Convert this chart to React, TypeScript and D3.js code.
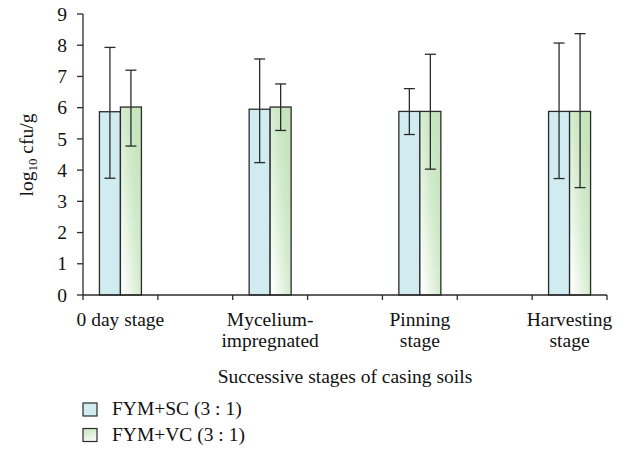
import React from "react";
import * as d3 from "d3";

// Excel-style layout: 7 category slots, stages sit in every other slot
const slotCount = 7;
const stageSlots = [0, 2, 4, 6];
const stageLabels = [["0 day stage"], ["Mycelium-", "impregnated"], ["Pinning", "stage"], ["Harvesting", "stage"]];

const seriesNames = ["FYM+SC (3 : 1)", "FYM+VC (3 : 1)"];

// means and error bar ends (log10 cfu/g)
const scMean = [5.87, 5.95, 5.88, 5.88];
const scHigh = [7.93, 7.56, 6.61, 8.07];
const scLow = [3.74, 4.24, 5.14, 3.73];

const vcMean = [6.02, 6.02, 5.88, 5.88];
const vcHigh = [7.2, 6.76, 7.71, 8.37];
const vcLow = [4.77, 5.27, 4.03, 3.44];

const yTicks = [0, 1, 2, 3, 4, 5, 6, 7, 8, 9];

const FONT = "'Liberation Serif', 'Times New Roman', serif";
const BLUE = "#d0ecf0";
const STROKE = "#2b2b2b";
const FS = 19.5;

export default function App() {
  const width = 627;
  const height = 450;
  const left = 83;
  const right = 607;
  const top = 14;
  const bottom = 295;

  const y = d3.scaleLinear().domain([0, 9]).range([bottom, top]);
  const x = d3.scaleBand<number>().domain(d3.range(slotCount)).range([left, right]);
  const bw = x.bandwidth();
  const xs = d3.scaleBand<number>().domain([0, 1]).range([bw / 2 - 21, bw / 2 + 21]);

  const series = [
    { mean: scMean, hi: scHigh, lo: scLow, fill: BLUE },
    { mean: vcMean, hi: vcHigh, lo: vcLow, fill: "url(#greenGrad)" },
  ];

  const xTickPos = [...d3.range(slotCount).map((i) => x(i)!), right];

  return (
    <svg width={width} height={height} style={{ position: "absolute", left: 0, top: 0 }} fontFamily={FONT}>
      <defs>
        <linearGradient id="greenGrad" x1="0.9" y1="0.3" x2="0.1" y2="1">
          <stop offset="0" stopColor="#c6e5be" />
          <stop offset="0.35" stopColor="#d2ebcc" />
          <stop offset="1" stopColor="#ffffff" />
        </linearGradient>
        <linearGradient id="greenLegend" x1="0" y1="0" x2="0.3" y2="1">
          <stop offset="0" stopColor="#c6e5be" />
          <stop offset="1" stopColor="#f4faf2" />
        </linearGradient>
      </defs>

      {/* bars */}
      {series.map((s, si) =>
        stageSlots.map((slot, i) => {
          const bx = x(slot)! + xs(si)!;
          return (
            <rect
              key={`b${si}-${i}`}
              x={bx}
              y={y(s.mean[i])}
              width={xs.bandwidth()}
              height={y(0) - y(s.mean[i])}
              fill={s.fill}
              stroke={STROKE}
              strokeWidth={1.3}
            />
          );
        })
      )}

      {/* error bars */}
      {series.map((s, si) =>
        stageSlots.map((slot, i) => {
          const cx = x(slot)! + xs(si)! + xs.bandwidth() / 2;
          return (
            <g key={`e${si}-${i}`} stroke={STROKE} strokeWidth={1.3}>
              <line x1={cx} x2={cx} y1={y(s.hi[i])} y2={y(s.lo[i])} />
              <line x1={cx - 5.5} x2={cx + 5.5} y1={y(s.hi[i])} y2={y(s.hi[i])} />
              <line x1={cx - 5.5} x2={cx + 5.5} y1={y(s.lo[i])} y2={y(s.lo[i])} />
            </g>
          );
        })
      )}

      {/* y axis */}
      <line x1={left} x2={left} y1={top} y2={bottom} stroke={STROKE} strokeWidth={1.3} />
      {yTicks.map((t) => (
        <g key={t}>
          <line x1={left - 6} x2={left} y1={y(t)} y2={y(t)} stroke={STROKE} strokeWidth={1.3} />
          <text x={67} y={y(t)} dy="0.34em" textAnchor="end" fontSize={FS} fill="#111">
            {t}
          </text>
        </g>
      ))}
      <text transform={`translate(33,155) rotate(-90)`} textAnchor="middle" fontSize={FS} fill="#111">
        log<tspan fontSize={13} dy={4}>10</tspan>
        <tspan dy={-4}> cfu/g</tspan>
      </text>

      {/* x axis */}
      <line x1={left} x2={right} y1={bottom} y2={bottom} stroke={STROKE} strokeWidth={1.3} />
      {xTickPos.map((p, i) => (
        <line key={i} x1={p} x2={p} y1={bottom} y2={bottom + 5} stroke={STROKE} strokeWidth={1.3} />
      ))}
      {stageLabels.map((lines, i) => {
        const cx = x(stageSlots[i])! + bw / 2;
        return (
          <text key={i} x={cx} y={326} textAnchor="middle" fontSize={FS} fill="#111">
            {lines.map((ln, j) => (
              <tspan key={j} x={cx} dy={j === 0 ? 0 : 21}>
                {ln}
              </tspan>
            ))}
          </text>
        );
      })}
      <text x={(left + right) / 2} y={383} textAnchor="middle" fontSize={FS} fill="#111">
        Successive stages of casing soils
      </text>

      {/* legend */}
      {seriesNames.map((name, i) => (
        <g key={name} transform={`translate(83,${403 + i * 25.5})`}>
          <rect x={0} y={0} width={14} height={13} fill={i === 0 ? BLUE : "url(#greenLegend)"} stroke={STROKE} strokeWidth={1.2} />
          <text x={29} y={12} fontSize={FS} fill="#111">
            {name}
          </text>
        </g>
      ))}
    </svg>
  );
}
